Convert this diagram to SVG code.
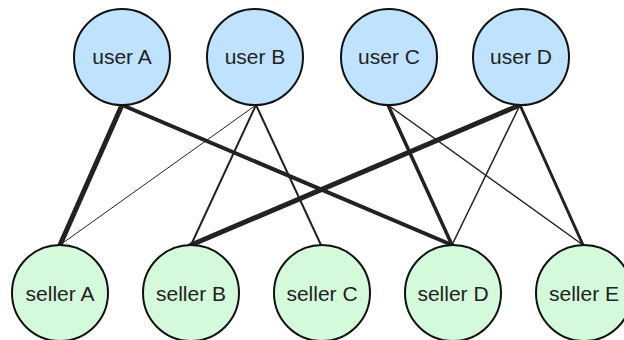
<svg xmlns="http://www.w3.org/2000/svg" width="624" height="340" viewBox="0 0 624 340">
<style>
.edge{stroke:#222;stroke-linecap:round;fill:none}
.user circle{fill:#bfe3ff;stroke:#111;stroke-width:2}
.seller circle{fill:#d4fadb;stroke:#111;stroke-width:2}
text{font-family:"Liberation Sans",Arial,sans-serif;font-size:21px;fill:#222;text-anchor:middle}
</style>
<rect width="624" height="340" fill="#fff"/>
<g id="connectors">
<line class="edge" x1="122" y1="105" x2="60" y2="245" stroke-width="5"/>
<line class="edge" x1="122" y1="105" x2="452" y2="245" stroke-width="4"/>
<line class="edge" x1="256" y1="105" x2="60" y2="245" stroke-width="1"/>
<line class="edge" x1="256" y1="105" x2="191" y2="245" stroke-width="2"/>
<line class="edge" x1="256" y1="105" x2="321" y2="245" stroke-width="2"/>
<line class="edge" x1="388" y1="105" x2="452" y2="245" stroke-width="3.5"/>
<line class="edge" x1="388" y1="105" x2="583" y2="245" stroke-width="1.5"/>
<line class="edge" x1="520" y1="105" x2="191" y2="245" stroke-width="5"/>
<line class="edge" x1="520" y1="105" x2="452" y2="245" stroke-width="1.5"/>
<line class="edge" x1="520" y1="105" x2="583" y2="245" stroke-width="3"/>
</g>
<g id="userA" class="user"><circle cx="122" cy="57" r="48"/><text x="122" y="64">user A</text></g>
<g id="userB" class="user"><circle cx="255" cy="57" r="48"/><text x="255" y="64">user B</text></g>
<g id="userC" class="user"><circle cx="389" cy="57" r="48"/><text x="389" y="64">user C</text></g>
<g id="userD" class="user"><circle cx="521" cy="57" r="48"/><text x="521" y="64">user D</text></g>
<g id="sellerA" class="seller"><circle cx="60" cy="293" r="48"/><text x="60" y="301">seller A</text></g>
<g id="sellerB" class="seller"><circle cx="191" cy="293" r="48"/><text x="191" y="301">seller B</text></g>
<g id="sellerC" class="seller"><circle cx="322" cy="293" r="48"/><text x="322" y="301">seller C</text></g>
<g id="sellerD" class="seller"><circle cx="453" cy="293" r="48"/><text x="453" y="301">seller D</text></g>
<g id="sellerE" class="seller"><circle cx="584" cy="293" r="48"/><text x="584" y="301">seller E</text></g>
</svg>
